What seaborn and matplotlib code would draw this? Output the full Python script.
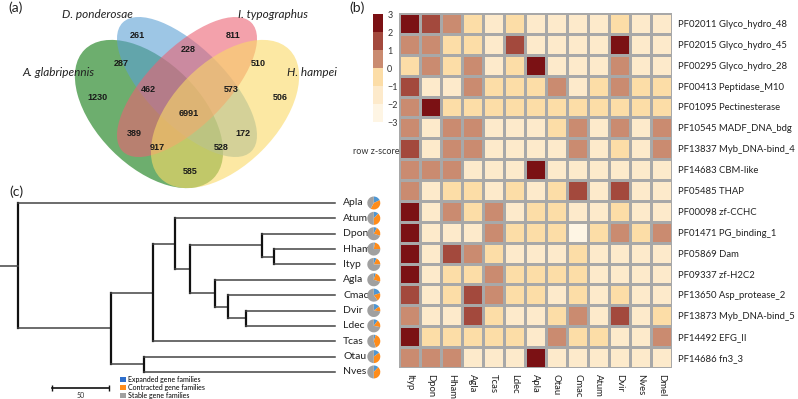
import numpy as np
import pandas as pd
import seaborn as sns
import matplotlib.pyplot as plt
from matplotlib.colors import ListedColormap, BoundaryNorm
from matplotlib.patches import Ellipse, Patch

plt.rcParams['font.family'] = ['Lato', 'DejaVu Sans']

# ---------------- data ----------------
# (a) shared / unique gene families
venn_names = ["A. glabripennis", "D. ponderosae", "I. typographus", "H. hampei"]
venn_counts = [261, 811, 228, 287, 510, 1230, 462, 573, 506, 6991, 389, 172, 917, 528, 585]

# (b) expanded Pfam domains, row z-score (binned)
domains = ["PF02011 Glyco_hydro_48", "PF02015 Glyco_hydro_45", "PF00295 Glyco_hydro_28",
           "PF00413 Peptidase_M10", "PF01095 Pectinesterase", "PF10545 MADF_DNA_bdg",
           "PF13837 Myb_DNA-bind_4", "PF14683 CBM-like", "PF05485 THAP", "PF00098 zf-CCHC",
           "PF01471 PG_binding_1", "PF05869 Dam", "PF09337 zf-H2C2", "PF13650 Asp_protease_2",
           "PF13873 Myb_DNA-bind_5", "PF14492 EFG_II", "PF14686 fn3_3"]
species = ["Ityp", "Dpon", "Hham", "Agla", "Tcas", "Ldec", "Apla",
           "Otau", "Cmac", "Atum", "Dvir", "Nves", "Dmel"]
zscore = [
    [2.5, 1.5, 0.5, -0.5, -1.5, -0.5, -1.5, -1.5, -1.5, -1.5, -0.5, -1.5, -1.5],
    [0.5, 0.5, -0.5, -0.5, -1.5, 1.5, -1.5, -1.5, -1.5, -1.5, 2.5, -1.5, -1.5],
    [-0.5, 0.5, -0.5, 0.5, -1.5, -0.5, 2.5, -1.5, -1.5, -1.5, 0.5, -1.5, -1.5],
    [1.5, -1.5, -1.5, 0.5, -0.5, -0.5, -0.5, 0.5, -1.5, -0.5, 0.5, -0.5, -0.5],
    [0.5, 2.5, -0.5, -0.5, -0.5, -0.5, -0.5, -0.5, -0.5, -0.5, -0.5, -0.5, -0.5],
    [0.5, -1.5, 0.5, 0.5, -1.5, -1.5, -1.5, -0.5, 0.5, -1.5, 0.5, -1.5, 0.5],
    [1.5, -1.5, 0.5, 0.5, -1.5, -1.5, -1.5, -1.5, 0.5, -1.5, -0.5, -1.5, 0.5],
    [0.5, 0.5, 0.5, -1.5, -1.5, -1.5, 2.5, -1.5, -1.5, -1.5, -1.5, -1.5, -1.5],
    [0.5, -1.5, -0.5, -0.5, -1.5, -0.5, -1.5, -0.5, 1.5, -1.5, 1.5, -1.5, -1.5],
    [2.5, -1.5, 0.5, -0.5, 0.5, -1.5, -0.5, -0.5, -1.5, -1.5, -0.5, -1.5, -1.5],
    [2.5, -1.5, -1.5, -1.5, 0.5, -0.5, -0.5, -0.5, -2.5, -0.5, 0.5, -0.5, 0.5],
    [2.5, -1.5, 1.5, 0.5, -0.5, -1.5, -1.5, -1.5, -0.5, -1.5, -1.5, -1.5, -1.5],
    [2.5, -1.5, -0.5, -0.5, 0.5, -0.5, -0.5, -0.5, -0.5, -1.5, -1.5, -1.5, -1.5],
    [1.5, -1.5, -0.5, 1.5, 0.5, -0.5, -0.5, -1.5, -0.5, -1.5, -0.5, -1.5, -1.5],
    [0.5, -1.5, -1.5, 1.5, -0.5, -1.5, -1.5, -0.5, 0.5, -1.5, 1.5, -1.5, -0.5],
    [2.5, -0.5, -0.5, -0.5, -0.5, -0.5, -1.5, 0.5, -0.5, -0.5, -1.5, -1.5, 0.5],
    [0.5, 0.5, 0.5, -1.5, -1.5, -1.5, 2.5, -1.5, -1.5, -1.5, -1.5, -1.5, -1.5],
]
zbins = [-3, -2, -1, 0, 1, 2, 3]

# (c) ultrametric tree (node ages, same units as scale bar) and gene family changes
tips = ["Apla", "Atum", "Dpon", "Hham", "Ityp", "Agla", "Cmac", "Dvir", "Ldec", "Tcas", "Otau", "Nves"]
node_age = {"root": 278, "n1": 197, "n2": 160, "n3": 140, "n4": 127, "n5": 64,
            "n7": 54, "n6": 105, "n8": 94, "n9": 78, "n10": 168}
node_children = {"root": ["Apla", "n1"], "n1": ["n2", "n10"], "n2": ["n3", "Tcas"],
                 "n3": ["Atum", "n4"], "n4": ["n5", "n6"], "n5": ["Dpon", "n7"],
                 "n7": ["Hham", "Ityp"], "n6": ["Agla", "n8"], "n8": ["Cmac", "n9"],
                 "n9": ["Dvir", "Ldec"], "n10": ["Otau", "Nves"]}
expanded = [0.18, 0.12, 0.08, 0.03, 0.07, 0.05, 0.20, 0.15, 0.10, 0.05, 0.15, 0.12]
contracted = [0.40, 0.38, 0.22, 0.22, 0.18, 0.25, 0.20, 0.12, 0.18, 0.40, 0.35, 0.38]
stable = [0.42, 0.50, 0.70, 0.75, 0.75, 0.70, 0.60, 0.73, 0.72, 0.55, 0.50, 0.50]

# ---------------- figure ----------------
W, H = 798, 399
fig = plt.figure(figsize=(W / 100, H / 100), dpi=100)


def px_axes(x0, y0, x1, y1):
    return fig.add_axes([x0 / W, 1 - y1 / H, (x1 - x0) / W, (y1 - y0) / H])


# ----- (a) Venn -----
ax_v = px_axes(0, 0, 370, 200)
ax_v.set_xlim(0, 370)
ax_v.set_ylim(200, 0)
ax_v.axis("off")
ell_geom = [(149, 114, 182, 104, 45), (187, 87, 182, 78, 45),
            (187, 87, 182, 78, -45), (225, 114, 182, 104, -45)]
ell_colors = ["#0C780D", "#5CA0D5", "#EB6273", "#FADA66"]
for (cx, cy, w, h, ang), c in zip(ell_geom, ell_colors):
    ax_v.add_patch(Ellipse((cx, cy), w, h, angle=ang, facecolor=c, alpha=0.6, lw=0))
name_pos = [(58, 73), (97, 15), (273, 15), (312, 73)]
for (x, y), n in zip(name_pos, venn_names):
    ax_v.text(x, y, n, style="italic", fontsize=8.5, ha="center", va="center", color="#222222")
count_pos = [(137, 35), (233, 35), (188, 50), (121, 64), (258, 64), (97, 98), (148, 89),
             (231, 89), (280, 98), (189, 113), (134, 133), (243, 133), (157, 147),
             (221, 147), (190, 172)]
for (x, y), n in zip(count_pos, venn_counts):
    ax_v.text(x, y, str(n), fontsize=6.5, fontweight="bold", ha="center", va="center",
              color="#1a1a1a", family=["Liberation Sans", "DejaVu Sans"])

# ----- (b) heatmap -----
ax_h = px_axes(399, 13, 672, 368)
cax = px_axes(373, 14, 383, 122)
df = pd.DataFrame(zscore, index=domains, columns=species)
cmap = ListedColormap(["#FEF5E4", "#FDEACB", "#FCDDA7", "#CA8B70", "#A3493D", "#7B1114"])
norm = BoundaryNorm(zbins, cmap.N)
sns.heatmap(df, ax=ax_h, cmap=cmap, norm=norm, linewidths=0.8, linecolor="#A8A8A8",
            cbar_ax=cax, cbar_kws={"ticks": zbins})
ax_h.yaxis.tick_right()
ax_h.tick_params(axis="both", length=0, pad=4)
ax_h.set_yticklabels(domains, rotation=0, fontsize=6.8, color="#222222")
ax_h.set_xticklabels(species, rotation=270, fontsize=6.8, color="#222222")
ax_h.set_xlabel("")
ax_h.set_ylabel("")
cax.tick_params(length=0, labelsize=6.5, labelcolor="#333333", pad=3)
fig.text(376 / W, 1 - 151 / H, "row z-score", fontsize=6.5, ha="center", va="center",
         color="#333333")

# ----- (c) tree -----
ax_t = px_axes(0, 195, 400, 399)
ax_t.set_xlim(294, -57)
ax_t.set_ylim(12.76, -0.52)
ax_t.axis("off")

ypos = {t: i for i, t in enumerate(tips)}


def node_y(n):
    if n in ypos:
        return ypos[n]
    ys = [node_y(c) for c in node_children[n]]
    ypos[n] = (ys[0] + ys[-1]) / 2
    return ypos[n]


node_y("root")
for n, kids in node_children.items():
    a = node_age[n]
    ys = [ypos[k] for k in kids]
    ax_t.plot([a, a], [min(ys), max(ys)], color="#111111", lw=1.6, solid_capstyle="projecting")
    for k in kids:
        ax_t.plot([a, node_age.get(k, 0)], [ypos[k], ypos[k]], color="#444444", lw=1.1)
ax_t.plot([294, node_age["root"]], [ypos["root"]] * 2, color="#444444", lw=1.1)

for t in tips:
    ax_t.text(-7, ypos[t], t, fontsize=7.5, ha="left", va="center", color="#222222")

# scale bar
ax_t.plot([248, 198], [12.04, 12.04], color="#111111", lw=1.2, marker="|", ms=4)
ax_t.text(223, 12.5, "50", fontsize=5, ha="center", va="center", color="#333333")

# pies
pie_colors = ["#4E96D2", "#FF8C1A", "#A0A0A0"]
r = 6.5
for i, t in enumerate(tips):
    dx, dy = ax_t.transData.transform((-34, ypos[t]))
    fx, fy = fig.transFigure.inverted().transform((dx, dy))
    pa = fig.add_axes([fx - r / W, fy - r / H, 2 * r / W, 2 * r / H])
    pa.pie([expanded[i], contracted[i], stable[i]], colors=pie_colors, startangle=90,
           counterclock=False, wedgeprops={"linewidth": 0})
    pa.set_xlim(-1, 1)
    pa.set_ylim(-1, 1)
    pa.set_aspect("equal")

handles = [Patch(facecolor=c, edgecolor="none") for c in ["#2F6FCC", "#FF8C1A", "#A0A0A0"]]
fig.legend(handles, ["Expanded gene families", "Contracted gene families", "Stable gene families"],
           loc="upper left", bbox_to_anchor=(120 / W, 1 - 376 / H), fontsize=5, frameon=False,
           handlelength=0.8, handleheight=0.8, handletextpad=0.4, labelspacing=0.15,
           borderpad=0, borderaxespad=0)

# panel labels
for x, y, s in [(16, 8, "(a)"), (357, 8, "(b)"), (16, 192, "(c)")]:
    fig.text(x / W, 1 - y / H, s, fontsize=10, ha="center", va="center", color="#222222")

fig.savefig("out.png", dpi=100)
